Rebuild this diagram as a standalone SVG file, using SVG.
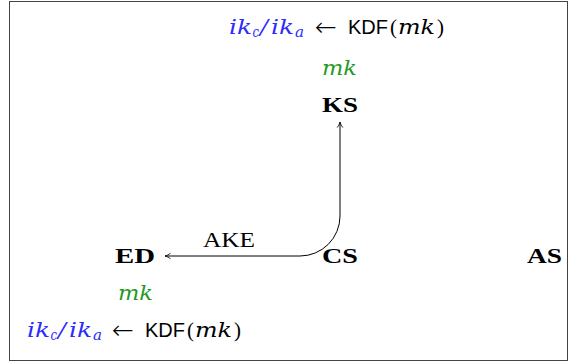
<svg xmlns="http://www.w3.org/2000/svg" width="569" height="362" viewBox="0 0 569 362">
<style>
text{font-family:"Liberation Serif","DejaVu Serif",serif;font-size:21px;fill:#000}
.m{font-family:"DejaVu Serif",serif;font-style:italic;font-size:21px}
.b{fill:#2b2bff}
.g{fill:#1f9a1f;font-family:"DejaVu Serif",serif;font-style:italic;font-size:21px}
.sf{font-family:"Liberation Sans","DejaVu Sans",sans-serif;font-size:20px}
.sub{font-size:15px}
.ar{font-family:"DejaVu Sans",sans-serif;font-weight:200;font-size:26px}
.node{font-weight:bold;font-size:21px}
.c{fill:none;stroke:#000;stroke-width:1}
</style>
<defs>
<marker id="ah" viewBox="0 0 10 10" refX="9" refY="5" markerWidth="8" markerHeight="8" orient="auto-start-reverse" markerUnits="userSpaceOnUse">
<path d="M2,1.5 Q5,4 9,5 Q5,6 2,8.5" fill="none" stroke="#000" stroke-width="1"/>
</marker>
</defs>
<rect x="9.5" y="1.5" width="558" height="359" fill="#fff" stroke="#444" stroke-width="1"/>
<g id="KS">
<text x="322" y="75" class="g" textLength="35" lengthAdjust="spacingAndGlyphs">mk</text>
<text x="322" y="112" class="node" textLength="36" lengthAdjust="spacingAndGlyphs">KS</text>
<g>
<text x="229" y="34" class="m b" textLength="23" lengthAdjust="spacingAndGlyphs">ik</text>
<text x="252.5" y="37" class="m b sub" textLength="6.5" lengthAdjust="spacingAndGlyphs">c</text>
<text x="260" y="34" class="m b" textLength="8" lengthAdjust="spacingAndGlyphs">/</text>
<text x="271" y="34" class="m b" textLength="23" lengthAdjust="spacingAndGlyphs">ik</text>
<text x="295" y="37" class="m b sub" textLength="9" lengthAdjust="spacingAndGlyphs">a</text>
<text x="315" y="36" class="ar" textLength="22" lengthAdjust="spacingAndGlyphs">←</text>
<text x="348" y="34" class="sf" textLength="40" lengthAdjust="spacingAndGlyphs">KDF</text>
<text x="390" y="34">(</text>
<text x="398" y="34" class="m" textLength="37" lengthAdjust="spacingAndGlyphs">mk</text>
<text x="437" y="34">)</text>
</g>
</g>
<g id="ED">
<text x="115" y="263" class="node" textLength="40" lengthAdjust="spacingAndGlyphs">ED</text>
<text x="118" y="300" class="g" textLength="35" lengthAdjust="spacingAndGlyphs">mk</text>
<g>
<text x="27" y="337" class="m b" textLength="23" lengthAdjust="spacingAndGlyphs">ik</text>
<text x="50.5" y="340" class="m b sub" textLength="6.5" lengthAdjust="spacingAndGlyphs">c</text>
<text x="58" y="337" class="m b" textLength="8" lengthAdjust="spacingAndGlyphs">/</text>
<text x="69" y="337" class="m b" textLength="23" lengthAdjust="spacingAndGlyphs">ik</text>
<text x="93" y="340" class="m b sub" textLength="9" lengthAdjust="spacingAndGlyphs">a</text>
<text x="112" y="339" class="ar" textLength="22" lengthAdjust="spacingAndGlyphs">←</text>
<text x="145" y="337" class="sf" textLength="40" lengthAdjust="spacingAndGlyphs">KDF</text>
<text x="187" y="337">(</text>
<text x="195" y="337" class="m" textLength="37" lengthAdjust="spacingAndGlyphs">mk</text>
<text x="234" y="337">)</text>
</g>
</g>
<g id="CS">
<text x="322" y="263" class="node" textLength="36" lengthAdjust="spacingAndGlyphs">CS</text>
</g>
<g id="AS">
<text x="527" y="263" class="node" textLength="35" lengthAdjust="spacingAndGlyphs">AS</text>
</g>
<g id="connectors">
<path class="c" d="M165,256 L300,256 A40,40 0 0 0 340,216 L340,122" marker-start="url(#ah)" marker-end="url(#ah)"/>
<text x="203" y="247" textLength="52" lengthAdjust="spacingAndGlyphs">AKE</text>
</g>
</svg>
